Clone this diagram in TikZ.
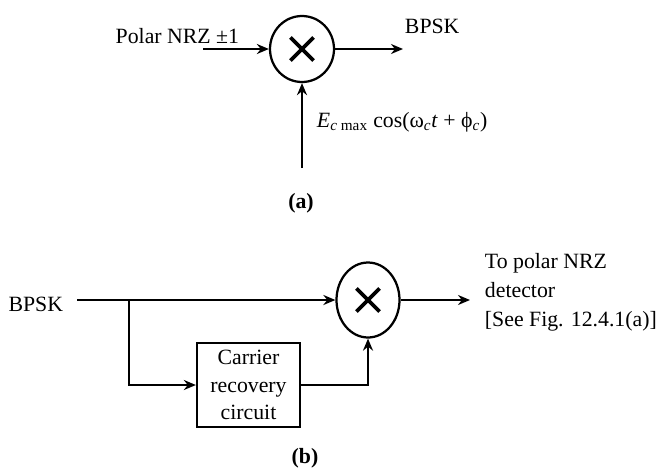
\documentclass[tikz,border=0pt]{standalone}
\usepackage{fontspec}
\setmainfont{Liberation Serif}
\usepackage{tikz}
\usetikzlibrary{arrows.meta,positioning,shapes.geometric}

\begin{document}
\begin{tikzpicture}[
  font=\fontsize{15.5}{19.5}\selectfont,
  mult/.style={draw, ellipse, line width=1.6pt, inner sep=0pt,
               minimum width=1.6cm, minimum height=1.65cm,
               path picture={\draw[line width=2.6pt]
                 ([shift={(-0.29,-0.29)}]path picture bounding box.center) --
                 ([shift={(0.29,0.29)}]path picture bounding box.center)
                 ([shift={(-0.29,0.29)}]path picture bounding box.center) --
                 ([shift={(0.29,-0.29)}]path picture bounding box.center);}},
  box/.style={draw, line width=1.6pt, minimum width=2.575cm, minimum height=2.1cm,
              align=center, inner sep=2pt},
  arr/.style={-{Stealth[length=3mm,width=2.5mm]}, line width=1.6pt},
  wire/.style={line width=1.6pt},
  sublbl/.style={font=\fontsize{15.5}{19.5}\selectfont\bfseries}
]
\useasboundingbox (0,0) rectangle (16.4,-11.8);

% (a): BPSK modulator
\node[mult] (ma) at (7.55,-1.225) {};
\coordinate (nrz) at (5.075,-1.225);
\coordinate (bpska) at (10.075,-1.225);
\coordinate (carr) at (7.55,-4.2);
\node[anchor=base east] (nrzlbl) at (6.1,-1.075) {Polar NRZ ±1};
\node[anchor=base west] (bpskalbl) at (10.0,-0.825) {BPSK};
\node[anchor=base west] (carrlbl) at (7.8,-3.175)
  {\textit{E}\textsubscript{\textit{c} max} cos(ω\textsubscript{\textit{c}}\textit{t} + ϕ\textsubscript{\textit{c}})};
\node[sublbl] (capa) at (7.525,-5.075) {(a)};

\draw[arr] (nrz) -- (ma.west);
\draw[arr] (ma.east) -- (bpska);
\draw[arr] (carr) -- (ma.south);

% (b): coherent BPSK demodulator
\node[mult, minimum width=1.575cm, minimum height=1.875cm] (mb) at (9.2,-7.5) {};
\node[box] (crc) at (6.2125,-9.625) {Carrier\\recovery\\circuit};
\node[anchor=east] (bpskblbl) at (1.7,-7.62) {BPSK};
\coordinate (in) at (1.925,-7.5);
\coordinate (split) at (3.225,-7.5);
\coordinate (out) at (11.75,-7.5);
\node[anchor=west, align=left, font=\fontsize{15.5}{20.5}\selectfont] (det) at (12.0,-7.3)
  {To polar NRZ\\detector\\{[}See Fig. 12.4.1(a)]};
\node[sublbl] (capb) at (7.625,-11.45) {(b)};

\draw[wire] (in) -- (split);
\draw[arr] (split) -- (mb.west);
\draw[arr] (split) |- (crc.west);
\draw[arr] (crc.east) -| (mb.south);
\draw[arr] (mb.east) -- (out);

\end{tikzpicture}
\end{document}
